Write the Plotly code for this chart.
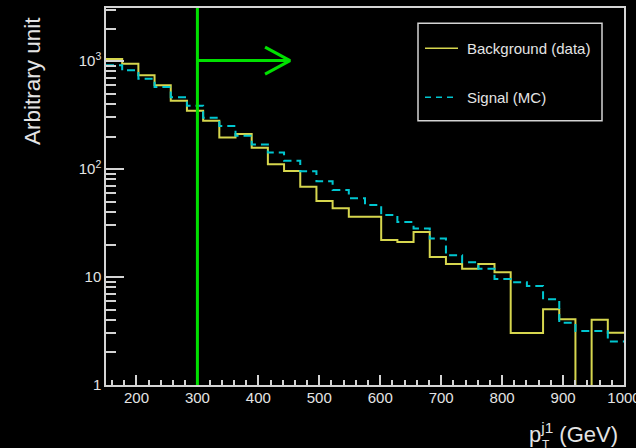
import numpy as np
import plotly.graph_objects as go

# ---------------- data ----------------
bin_edges = list(np.linspace(150, 1000, 33))  # 32 bins
background = [1043, 944, 737, 596, 429, 347, 280, 196, 211, 157, 110.5, 95.8,
              68.6, 50.5, 43.3, 36.2, 36.2, 22.0, 21.1, 26.1, 15.3, 13.2, 11.9,
              13.2, 11.05, 3.03, 3.03, 5.02, 4.06, 0, 4.03, 3.05]
signal = [912, 820, 686, 575, 461, 385, 299, 250, 203, 169, 142, 119,
          95.4, 77.1, 63.9, 53.5, 46.4, 37.5, 32.3, 28.2, 22.7, 15.9, 13.7,
          11.9, 9.58, 8.95, 8.25, 6.22, 3.78, 3.16, 3.16, 2.53]
series_names = ["Background (data)", "Signal (MC)"]

x_tick_vals = [200, 300, 400, 500, 600, 700, 800, 900, 1000]
x_tick_text = ["200", "300", "400", "500", "600", "700", "800", "900", "1000"]
x_minor_vals = [v for v in range(160, 1000, 20) if v % 100 != 0]
y_tick_vals = [1, 10, 100, 1000]
y_tick_text = ["1", "10", "10<sup>2</sup>", "10<sup>3</sup>"]
y_minor_vals = [m * d for d in (1, 10, 100) for m in range(2, 10)] + [2000, 3000]

cut_value = 300
arrow_end = 452
arrow_back = 411
arrow_level = 1010
arrow_wing = 0.125  # decades

# ---------------- style ----------------
W, H = 636, 448
L, R, T, B = 106, 12, 8, 63
pw, ph = W - L - R, H - T - B
YELLOW = "#d6d64e"
CYAN = "#00c6d0"
GREEN = "#00e000"
FRAME = "#d4d4d4"
TEXT = "#e4e4e4"
FONT = "Liberation Sans, Arial, sans-serif"


def px(x):
    return (x - L) / pw


def py(y):
    return (H - B - y) / ph


floor = 1e-3


def steps(vals):
    y = [v if v > 0 else floor for v in vals]
    return y + [y[-1]]


fig = go.Figure()
fig.add_trace(go.Scatter(x=bin_edges, y=steps(background), mode="lines",
                         line=dict(color=YELLOW, width=2, shape="hv"),
                         name=series_names[0], showlegend=False, hoverinfo="skip"))
fig.add_trace(go.Scatter(x=bin_edges, y=steps(signal), mode="lines",
                         line=dict(color=CYAN, width=2, shape="hv", dash="8px,5px"),
                         name=series_names[1], showlegend=False, hoverinfo="skip"))

# cut arrow
fig.add_trace(go.Scatter(x=[cut_value, arrow_end], y=[arrow_level, arrow_level],
                         mode="lines", line=dict(color=GREEN, width=3),
                         showlegend=False, hoverinfo="skip"))
fig.add_trace(go.Scatter(x=[arrow_back, arrow_end, arrow_back],
                         y=[arrow_level * 10 ** arrow_wing, arrow_level,
                            arrow_level * 10 ** (-arrow_wing)],
                         mode="lines", line=dict(color=GREEN, width=3),
                         showlegend=False, hoverinfo="skip"))

shapes = [
    dict(type="line", xref="x", yref="paper", x0=cut_value, x1=cut_value, y0=0, y1=1,
         line=dict(color=GREEN, width=3), layer="above"),
    # legend box
    dict(type="rect", xref="paper", yref="paper", x0=px(418), x1=px(602),
         y0=py(120.7), y1=py(23.3), line=dict(color=FRAME, width=1.5),
         fillcolor="black", layer="above"),
    dict(type="line", xref="paper", yref="paper", x0=px(425), x1=px(458),
         y0=py(48.3), y1=py(48.3), line=dict(color=YELLOW, width=1.5), layer="above"),
    dict(type="line", xref="paper", yref="paper", x0=px(425), x1=px(458),
         y0=py(97.3), y1=py(97.3), line=dict(color=CYAN, width=1.5, dash="6px,5px"),
         layer="above"),
]

annotations = [
    dict(text=series_names[0], xref="paper", yref="paper", x=px(465), y=py(48.3),
         xanchor="left", yanchor="middle", showarrow=False,
         font=dict(family=FONT, size=15, color=TEXT)),
    dict(text=series_names[1], xref="paper", yref="paper", x=px(465), y=py(97.3),
         xanchor="left", yanchor="middle", showarrow=False,
         font=dict(family=FONT, size=15, color=TEXT)),
    dict(text="Arbitrary unit", xref="paper", yref="paper", x=px(33), y=py(81),
         xanchor="center", yanchor="middle", textangle=-90, showarrow=False,
         font=dict(family=FONT, size=22.5, color=TEXT)),
    dict(text="p<sup>j1</sup> (GeV)", xref="paper", yref="paper", x=px(527), y=py(433),
         xanchor="left", yanchor="middle", showarrow=False,
         font=dict(family=FONT, size=22, color=TEXT)),
    dict(text="T", xref="paper", yref="paper", x=px(540), y=py(436),
         xanchor="left", yanchor="top", showarrow=False,
         font=dict(family=FONT, size=12, color=TEXT)),
]

fig.update_layout(
    width=W, height=H,
    margin=dict(l=L, r=R, t=T, b=B, pad=0, autoexpand=False),
    paper_bgcolor="black", plot_bgcolor="black",
    showlegend=False,
    shapes=shapes, annotations=annotations,
    xaxis=dict(range=[150, 1000], showgrid=False, zeroline=False, automargin=False,
               showline=True, mirror=True, linecolor=FRAME, linewidth=1.5,
               ticks="inside", ticklen=10, tickwidth=1.5, tickcolor=FRAME,
               tickmode="array", tickvals=x_tick_vals, ticktext=x_tick_text,
               ticklabeloverflow="allow", ticklabelstandoff=-2,
               tickfont=dict(family=FONT, size=15, color=TEXT),
               minor=dict(ticks="inside", ticklen=5.5, tickwidth=1.5, tickcolor=FRAME,
                          tickmode="array", tickvals=x_minor_vals, showgrid=False)),
    yaxis=dict(type="log", range=[0, 3.491], showgrid=False, zeroline=False,
               automargin=False,
               showline=True, mirror=True, linecolor=FRAME, linewidth=1.5,
               ticks="inside", ticklen=18, tickwidth=1.5, tickcolor=FRAME,
               tickmode="array", tickvals=y_tick_vals, ticktext=y_tick_text,
               tickfont=dict(family=FONT, size=15, color=TEXT),
               minor=dict(ticks="inside", ticklen=10, tickwidth=1.5, tickcolor=FRAME,
                          tickmode="array", tickvals=y_minor_vals, showgrid=False)),
)

fig.write_html("out.html")
